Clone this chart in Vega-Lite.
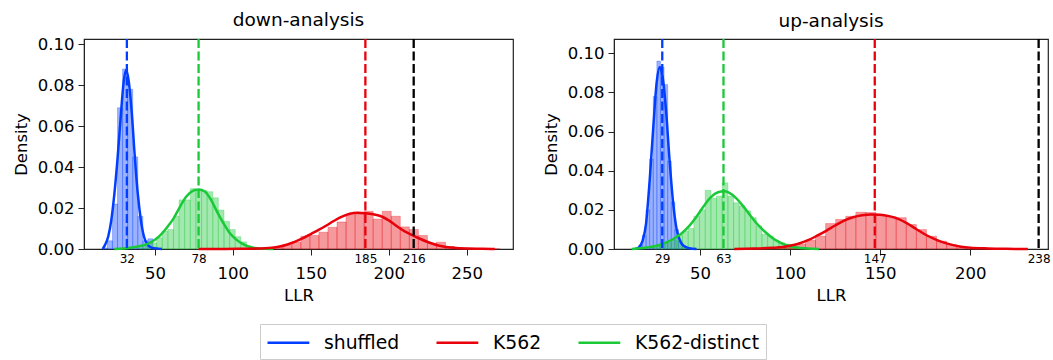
{
  "$schema": "https://vega.github.io/schema/vega-lite/v6.json",
  "padding": {"left": 12, "top": 10, "right": 0, "bottom": 0},
  "background": "white",
  "datasets": {
    "hist": [
      {"panel": "down", "series": "shuffled", "lo": 16.25, "hi": 19.5, "density": 0.0005},
      {"panel": "down", "series": "shuffled", "lo": 19.5, "hi": 22.75, "density": 0.004},
      {"panel": "down", "series": "shuffled", "lo": 22.75, "hi": 26, "density": 0.022},
      {"panel": "down", "series": "shuffled", "lo": 26, "hi": 29.25, "density": 0.069},
      {"panel": "down", "series": "shuffled", "lo": 29.25, "hi": 32.5, "density": 0.088},
      {"panel": "down", "series": "shuffled", "lo": 32.5, "hi": 35.75, "density": 0.078},
      {"panel": "down", "series": "shuffled", "lo": 35.75, "hi": 39, "density": 0.045},
      {"panel": "down", "series": "shuffled", "lo": 39, "hi": 42.25, "density": 0.016},
      {"panel": "down", "series": "shuffled", "lo": 42.25, "hi": 45.5, "density": 0.004},
      {"panel": "down", "series": "shuffled", "lo": 45.5, "hi": 48.75, "density": 0.005},
      {"panel": "down", "series": "shuffled", "lo": 48.75, "hi": 52, "density": 0.0008},
      {"panel": "down", "series": "K562-distinct", "lo": 40.3, "hi": 43.9, "density": 0.0005},
      {"panel": "down", "series": "K562-distinct", "lo": 43.9, "hi": 47.5, "density": 0.0015},
      {"panel": "down", "series": "K562-distinct", "lo": 47.5, "hi": 51.1, "density": 0.003},
      {"panel": "down", "series": "K562-distinct", "lo": 51.1, "hi": 54.7, "density": 0.0055},
      {"panel": "down", "series": "K562-distinct", "lo": 54.7, "hi": 58.3, "density": 0.0087},
      {"panel": "down", "series": "K562-distinct", "lo": 58.3, "hi": 61.9, "density": 0.0095},
      {"panel": "down", "series": "K562-distinct", "lo": 61.9, "hi": 65.5, "density": 0.016},
      {"panel": "down", "series": "K562-distinct", "lo": 65.5, "hi": 69.1, "density": 0.024},
      {"panel": "down", "series": "K562-distinct", "lo": 69.1, "hi": 72.7, "density": 0.024},
      {"panel": "down", "series": "K562-distinct", "lo": 72.7, "hi": 76.3, "density": 0.0295},
      {"panel": "down", "series": "K562-distinct", "lo": 76.3, "hi": 79.9, "density": 0.029},
      {"panel": "down", "series": "K562-distinct", "lo": 79.9, "hi": 83.5, "density": 0.0285},
      {"panel": "down", "series": "K562-distinct", "lo": 83.5, "hi": 87.1, "density": 0.028},
      {"panel": "down", "series": "K562-distinct", "lo": 87.1, "hi": 90.7, "density": 0.025},
      {"panel": "down", "series": "K562-distinct", "lo": 90.7, "hi": 94.3, "density": 0.019},
      {"panel": "down", "series": "K562-distinct", "lo": 94.3, "hi": 97.9, "density": 0.0135},
      {"panel": "down", "series": "K562-distinct", "lo": 97.9, "hi": 101.5, "density": 0.0095},
      {"panel": "down", "series": "K562-distinct", "lo": 101.5, "hi": 105.1, "density": 0.006},
      {"panel": "down", "series": "K562-distinct", "lo": 105.1, "hi": 108.7, "density": 0.0035},
      {"panel": "down", "series": "K562-distinct", "lo": 108.7, "hi": 112.3, "density": 0.0015},
      {"panel": "down", "series": "K562-distinct", "lo": 112.3, "hi": 115.9, "density": 0.0006},
      {"panel": "down", "series": "K562-distinct", "lo": 115.9, "hi": 119.5, "density": 0.0002},
      {"panel": "down", "series": "K562", "lo": 114.6, "hi": 120.4, "density": 0.0003},
      {"panel": "down", "series": "K562", "lo": 120.4, "hi": 126.2, "density": 0.0005},
      {"panel": "down", "series": "K562", "lo": 126.2, "hi": 132, "density": 0.0009},
      {"panel": "down", "series": "K562", "lo": 132, "hi": 137.8, "density": 0.0018},
      {"panel": "down", "series": "K562", "lo": 137.8, "hi": 143.6, "density": 0.0033},
      {"panel": "down", "series": "K562", "lo": 143.6, "hi": 149.4, "density": 0.0062},
      {"panel": "down", "series": "K562", "lo": 149.4, "hi": 155.2, "density": 0.0066},
      {"panel": "down", "series": "K562", "lo": 155.2, "hi": 161, "density": 0.0082},
      {"panel": "down", "series": "K562", "lo": 161, "hi": 166.8, "density": 0.0106},
      {"panel": "down", "series": "K562", "lo": 166.8, "hi": 172.6, "density": 0.0132},
      {"panel": "down", "series": "K562", "lo": 172.6, "hi": 178.4, "density": 0.0168},
      {"panel": "down", "series": "K562", "lo": 178.4, "hi": 184.2, "density": 0.0172},
      {"panel": "down", "series": "K562", "lo": 184.2, "hi": 190, "density": 0.0184},
      {"panel": "down", "series": "K562", "lo": 190, "hi": 195.8, "density": 0.0146},
      {"panel": "down", "series": "K562", "lo": 195.8, "hi": 201.6, "density": 0.0184},
      {"panel": "down", "series": "K562", "lo": 201.6, "hi": 207.4, "density": 0.016},
      {"panel": "down", "series": "K562", "lo": 207.4, "hi": 213.2, "density": 0.0108},
      {"panel": "down", "series": "K562", "lo": 213.2, "hi": 219, "density": 0.0095},
      {"panel": "down", "series": "K562", "lo": 219, "hi": 224.8, "density": 0.0066},
      {"panel": "down", "series": "K562", "lo": 224.8, "hi": 230.6, "density": 0.0029},
      {"panel": "down", "series": "K562", "lo": 230.6, "hi": 236.4, "density": 0.0033},
      {"panel": "down", "series": "K562", "lo": 236.4, "hi": 242.2, "density": 0.0012},
      {"panel": "down", "series": "K562", "lo": 242.2, "hi": 248, "density": 0.0006},
      {"panel": "down", "series": "K562", "lo": 248, "hi": 253.8, "density": 0.0004},
      {"panel": "down", "series": "K562", "lo": 253.8, "hi": 259.6, "density": 0.0002},
      {"panel": "down", "series": "K562", "lo": 259.6, "hi": 265.4, "density": 0.0001},
      {"panel": "down", "series": "K562", "lo": 265.4, "hi": 271.2, "density": 0.0001},
      {"panel": "up", "series": "shuffled", "lo": 16, "hi": 18, "density": 0.002},
      {"panel": "up", "series": "shuffled", "lo": 18, "hi": 20, "density": 0.007},
      {"panel": "up", "series": "shuffled", "lo": 20, "hi": 22, "density": 0.02},
      {"panel": "up", "series": "shuffled", "lo": 22, "hi": 24, "density": 0.046},
      {"panel": "up", "series": "shuffled", "lo": 24, "hi": 26, "density": 0.078},
      {"panel": "up", "series": "shuffled", "lo": 26, "hi": 28, "density": 0.096},
      {"panel": "up", "series": "shuffled", "lo": 28, "hi": 30, "density": 0.093},
      {"panel": "up", "series": "shuffled", "lo": 30, "hi": 32, "density": 0.084},
      {"panel": "up", "series": "shuffled", "lo": 32, "hi": 34, "density": 0.045},
      {"panel": "up", "series": "shuffled", "lo": 34, "hi": 36, "density": 0.024},
      {"panel": "up", "series": "shuffled", "lo": 36, "hi": 38, "density": 0.01},
      {"panel": "up", "series": "shuffled", "lo": 38, "hi": 40, "density": 0.004},
      {"panel": "up", "series": "shuffled", "lo": 40, "hi": 42, "density": 0.0015},
      {"panel": "up", "series": "shuffled", "lo": 42, "hi": 44, "density": 0.0006},
      {"panel": "up", "series": "K562-distinct", "lo": 24.5, "hi": 27.65, "density": 0.0015},
      {"panel": "up", "series": "K562-distinct", "lo": 27.65, "hi": 30.8, "density": 0.002},
      {"panel": "up", "series": "K562-distinct", "lo": 30.8, "hi": 33.95, "density": 0.003},
      {"panel": "up", "series": "K562-distinct", "lo": 33.95, "hi": 37.1, "density": 0.0045},
      {"panel": "up", "series": "K562-distinct", "lo": 37.1, "hi": 40.25, "density": 0.007},
      {"panel": "up", "series": "K562-distinct", "lo": 40.25, "hi": 43.4, "density": 0.009},
      {"panel": "up", "series": "K562-distinct", "lo": 43.4, "hi": 46.55, "density": 0.0105},
      {"panel": "up", "series": "K562-distinct", "lo": 46.55, "hi": 49.7, "density": 0.0167},
      {"panel": "up", "series": "K562-distinct", "lo": 49.7, "hi": 52.85, "density": 0.02},
      {"panel": "up", "series": "K562-distinct", "lo": 52.85, "hi": 56, "density": 0.03},
      {"panel": "up", "series": "K562-distinct", "lo": 56, "hi": 59.15, "density": 0.026},
      {"panel": "up", "series": "K562-distinct", "lo": 59.15, "hi": 62.3, "density": 0.027},
      {"panel": "up", "series": "K562-distinct", "lo": 62.3, "hi": 65.45, "density": 0.0338},
      {"panel": "up", "series": "K562-distinct", "lo": 65.45, "hi": 68.6, "density": 0.027},
      {"panel": "up", "series": "K562-distinct", "lo": 68.6, "hi": 71.75, "density": 0.0236},
      {"panel": "up", "series": "K562-distinct", "lo": 71.75, "hi": 74.9, "density": 0.022},
      {"panel": "up", "series": "K562-distinct", "lo": 74.9, "hi": 78.05, "density": 0.0195},
      {"panel": "up", "series": "K562-distinct", "lo": 78.05, "hi": 81.2, "density": 0.016},
      {"panel": "up", "series": "K562-distinct", "lo": 81.2, "hi": 84.35, "density": 0.0118},
      {"panel": "up", "series": "K562-distinct", "lo": 84.35, "hi": 87.5, "density": 0.0075},
      {"panel": "up", "series": "K562-distinct", "lo": 87.5, "hi": 90.65, "density": 0.0066},
      {"panel": "up", "series": "K562-distinct", "lo": 90.65, "hi": 93.8, "density": 0.0045},
      {"panel": "up", "series": "K562-distinct", "lo": 93.8, "hi": 96.95, "density": 0.0032},
      {"panel": "up", "series": "K562-distinct", "lo": 96.95, "hi": 100.1, "density": 0.0025},
      {"panel": "up", "series": "K562-distinct", "lo": 100.1, "hi": 103.25, "density": 0.001},
      {"panel": "up", "series": "K562-distinct", "lo": 103.25, "hi": 106.4, "density": 0.0008},
      {"panel": "up", "series": "K562-distinct", "lo": 106.4, "hi": 109.55, "density": 0.0003},
      {"panel": "up", "series": "K562-distinct", "lo": 109.55, "hi": 112.7, "density": 0.0002},
      {"panel": "up", "series": "K562", "lo": 69.3, "hi": 74.9, "density": 0.0001},
      {"panel": "up", "series": "K562", "lo": 74.9, "hi": 80.5, "density": 0.0001},
      {"panel": "up", "series": "K562", "lo": 80.5, "hi": 86.1, "density": 0.0002},
      {"panel": "up", "series": "K562", "lo": 86.1, "hi": 91.7, "density": 0.0004},
      {"panel": "up", "series": "K562", "lo": 91.7, "hi": 97.3, "density": 0.0008},
      {"panel": "up", "series": "K562", "lo": 97.3, "hi": 102.9, "density": 0.0014},
      {"panel": "up", "series": "K562", "lo": 102.9, "hi": 108.5, "density": 0.0025},
      {"panel": "up", "series": "K562", "lo": 108.5, "hi": 114.1, "density": 0.0045},
      {"panel": "up", "series": "K562", "lo": 114.1, "hi": 119.7, "density": 0.0066},
      {"panel": "up", "series": "K562", "lo": 119.7, "hi": 125.3, "density": 0.013},
      {"panel": "up", "series": "K562", "lo": 125.3, "hi": 130.9, "density": 0.0151},
      {"panel": "up", "series": "K562", "lo": 130.9, "hi": 136.5, "density": 0.0167},
      {"panel": "up", "series": "K562", "lo": 136.5, "hi": 142.1, "density": 0.0188},
      {"panel": "up", "series": "K562", "lo": 142.1, "hi": 147.7, "density": 0.0186},
      {"panel": "up", "series": "K562", "lo": 147.7, "hi": 153.3, "density": 0.0172},
      {"panel": "up", "series": "K562", "lo": 153.3, "hi": 158.9, "density": 0.0165},
      {"panel": "up", "series": "K562", "lo": 158.9, "hi": 164.5, "density": 0.016},
      {"panel": "up", "series": "K562", "lo": 164.5, "hi": 170.1, "density": 0.0125},
      {"panel": "up", "series": "K562", "lo": 170.1, "hi": 175.7, "density": 0.0099},
      {"panel": "up", "series": "K562", "lo": 175.7, "hi": 181.3, "density": 0.0065},
      {"panel": "up", "series": "K562", "lo": 181.3, "hi": 186.9, "density": 0.004},
      {"panel": "up", "series": "K562", "lo": 186.9, "hi": 192.5, "density": 0.0022},
      {"panel": "up", "series": "K562", "lo": 192.5, "hi": 198.1, "density": 0.0012},
      {"panel": "up", "series": "K562", "lo": 198.1, "hi": 203.7, "density": 0.0007},
      {"panel": "up", "series": "K562", "lo": 203.7, "hi": 209.3, "density": 0.0004},
      {"panel": "up", "series": "K562", "lo": 209.3, "hi": 214.9, "density": 0.0002},
      {"panel": "up", "series": "K562", "lo": 214.9, "hi": 220.5, "density": 0.0001},
      {"panel": "up", "series": "K562", "lo": 220.5, "hi": 226.1, "density": 0.0001},
      {"panel": "up", "series": "K562", "lo": 226.1, "hi": 231.7, "density": 0.0001}
    ],
    "kde": [
      {"panel": "down", "series": "shuffled", "llr": 16.5, "density": 0},
      {"panel": "down", "series": "shuffled", "llr": 18, "density": 0.002},
      {"panel": "down", "series": "shuffled", "llr": 20, "density": 0.006},
      {"panel": "down", "series": "shuffled", "llr": 22, "density": 0.014},
      {"panel": "down", "series": "shuffled", "llr": 24, "density": 0.027},
      {"panel": "down", "series": "shuffled", "llr": 26, "density": 0.044},
      {"panel": "down", "series": "shuffled", "llr": 28, "density": 0.064},
      {"panel": "down", "series": "shuffled", "llr": 30, "density": 0.082},
      {"panel": "down", "series": "shuffled", "llr": 31.5, "density": 0.0875},
      {"panel": "down", "series": "shuffled", "llr": 33, "density": 0.083},
      {"panel": "down", "series": "shuffled", "llr": 35, "density": 0.068},
      {"panel": "down", "series": "shuffled", "llr": 37, "density": 0.046},
      {"panel": "down", "series": "shuffled", "llr": 39, "density": 0.027},
      {"panel": "down", "series": "shuffled", "llr": 41, "density": 0.014},
      {"panel": "down", "series": "shuffled", "llr": 43, "density": 0.006},
      {"panel": "down", "series": "shuffled", "llr": 45, "density": 0.0025},
      {"panel": "down", "series": "shuffled", "llr": 47, "density": 0.001},
      {"panel": "down", "series": "shuffled", "llr": 50, "density": 0.0003},
      {"panel": "down", "series": "shuffled", "llr": 54.5, "density": 0},
      {"panel": "down", "series": "K562-distinct", "llr": 24, "density": 0},
      {"panel": "down", "series": "K562-distinct", "llr": 30, "density": 0.0003},
      {"panel": "down", "series": "K562-distinct", "llr": 35, "density": 0.0007},
      {"panel": "down", "series": "K562-distinct", "llr": 40, "density": 0.0013},
      {"panel": "down", "series": "K562-distinct", "llr": 45, "density": 0.0024},
      {"panel": "down", "series": "K562-distinct", "llr": 50, "density": 0.0045},
      {"panel": "down", "series": "K562-distinct", "llr": 54, "density": 0.0072},
      {"panel": "down", "series": "K562-distinct", "llr": 58, "density": 0.0108},
      {"panel": "down", "series": "K562-distinct", "llr": 62, "density": 0.015},
      {"panel": "down", "series": "K562-distinct", "llr": 66, "density": 0.0205},
      {"panel": "down", "series": "K562-distinct", "llr": 70, "density": 0.0255},
      {"panel": "down", "series": "K562-distinct", "llr": 74, "density": 0.0283},
      {"panel": "down", "series": "K562-distinct", "llr": 78, "density": 0.0291},
      {"panel": "down", "series": "K562-distinct", "llr": 82, "density": 0.0281},
      {"panel": "down", "series": "K562-distinct", "llr": 86, "density": 0.024},
      {"panel": "down", "series": "K562-distinct", "llr": 90, "density": 0.018},
      {"panel": "down", "series": "K562-distinct", "llr": 94, "density": 0.0125},
      {"panel": "down", "series": "K562-distinct", "llr": 98, "density": 0.0078},
      {"panel": "down", "series": "K562-distinct", "llr": 102, "density": 0.0047},
      {"panel": "down", "series": "K562-distinct", "llr": 106, "density": 0.0026},
      {"panel": "down", "series": "K562-distinct", "llr": 110, "density": 0.0012},
      {"panel": "down", "series": "K562-distinct", "llr": 114, "density": 0.0005},
      {"panel": "down", "series": "K562-distinct", "llr": 120, "density": 0.0001},
      {"panel": "down", "series": "K562-distinct", "llr": 126, "density": 0},
      {"panel": "down", "series": "K562", "llr": 78, "density": 0},
      {"panel": "down", "series": "K562", "llr": 95, "density": 0.00005},
      {"panel": "down", "series": "K562", "llr": 105, "density": 0.0001},
      {"panel": "down", "series": "K562", "llr": 115, "density": 0.0002},
      {"panel": "down", "series": "K562", "llr": 125, "density": 0.0006},
      {"panel": "down", "series": "K562", "llr": 130, "density": 0.0012},
      {"panel": "down", "series": "K562", "llr": 135, "density": 0.0022},
      {"panel": "down", "series": "K562", "llr": 140, "density": 0.0036},
      {"panel": "down", "series": "K562", "llr": 145, "density": 0.0053},
      {"panel": "down", "series": "K562", "llr": 150, "density": 0.0073},
      {"panel": "down", "series": "K562", "llr": 155, "density": 0.0093},
      {"panel": "down", "series": "K562", "llr": 160, "density": 0.0115},
      {"panel": "down", "series": "K562", "llr": 165, "density": 0.0138},
      {"panel": "down", "series": "K562", "llr": 170, "density": 0.0158},
      {"panel": "down", "series": "K562", "llr": 175, "density": 0.0172},
      {"panel": "down", "series": "K562", "llr": 180, "density": 0.0177},
      {"panel": "down", "series": "K562", "llr": 185, "density": 0.0175},
      {"panel": "down", "series": "K562", "llr": 190, "density": 0.017},
      {"panel": "down", "series": "K562", "llr": 195, "density": 0.016},
      {"panel": "down", "series": "K562", "llr": 200, "density": 0.014},
      {"panel": "down", "series": "K562", "llr": 205, "density": 0.0112},
      {"panel": "down", "series": "K562", "llr": 210, "density": 0.0087},
      {"panel": "down", "series": "K562", "llr": 215, "density": 0.0068},
      {"panel": "down", "series": "K562", "llr": 220, "density": 0.005},
      {"panel": "down", "series": "K562", "llr": 225, "density": 0.0034},
      {"panel": "down", "series": "K562", "llr": 230, "density": 0.0021},
      {"panel": "down", "series": "K562", "llr": 235, "density": 0.0012},
      {"panel": "down", "series": "K562", "llr": 240, "density": 0.0007},
      {"panel": "down", "series": "K562", "llr": 250, "density": 0.0002},
      {"panel": "down", "series": "K562", "llr": 260, "density": 0.0001},
      {"panel": "down", "series": "K562", "llr": 268, "density": 0},
      {"panel": "up", "series": "shuffled", "llr": 14, "density": 0},
      {"panel": "up", "series": "shuffled", "llr": 16, "density": 0.0008},
      {"panel": "up", "series": "shuffled", "llr": 18, "density": 0.004},
      {"panel": "up", "series": "shuffled", "llr": 20, "density": 0.013},
      {"panel": "up", "series": "shuffled", "llr": 22, "density": 0.035},
      {"panel": "up", "series": "shuffled", "llr": 24, "density": 0.062},
      {"panel": "up", "series": "shuffled", "llr": 26, "density": 0.086},
      {"panel": "up", "series": "shuffled", "llr": 27.6, "density": 0.093},
      {"panel": "up", "series": "shuffled", "llr": 29, "density": 0.089},
      {"panel": "up", "series": "shuffled", "llr": 31, "density": 0.072},
      {"panel": "up", "series": "shuffled", "llr": 33, "density": 0.046},
      {"panel": "up", "series": "shuffled", "llr": 35, "density": 0.024},
      {"panel": "up", "series": "shuffled", "llr": 37, "density": 0.01},
      {"panel": "up", "series": "shuffled", "llr": 39, "density": 0.004},
      {"panel": "up", "series": "shuffled", "llr": 41, "density": 0.0015},
      {"panel": "up", "series": "shuffled", "llr": 44, "density": 0.0004},
      {"panel": "up", "series": "shuffled", "llr": 48, "density": 0},
      {"panel": "up", "series": "K562-distinct", "llr": 12, "density": 0},
      {"panel": "up", "series": "K562-distinct", "llr": 18, "density": 0.0005},
      {"panel": "up", "series": "K562-distinct", "llr": 24, "density": 0.0013},
      {"panel": "up", "series": "K562-distinct", "llr": 28, "density": 0.0022},
      {"panel": "up", "series": "K562-distinct", "llr": 32, "density": 0.0036},
      {"panel": "up", "series": "K562-distinct", "llr": 36, "density": 0.0056},
      {"panel": "up", "series": "K562-distinct", "llr": 40, "density": 0.0082},
      {"panel": "up", "series": "K562-distinct", "llr": 44, "density": 0.0118},
      {"panel": "up", "series": "K562-distinct", "llr": 48, "density": 0.0165},
      {"panel": "up", "series": "K562-distinct", "llr": 52, "density": 0.0218},
      {"panel": "up", "series": "K562-distinct", "llr": 56, "density": 0.0265},
      {"panel": "up", "series": "K562-distinct", "llr": 60, "density": 0.029},
      {"panel": "up", "series": "K562-distinct", "llr": 63.5, "density": 0.0295},
      {"panel": "up", "series": "K562-distinct", "llr": 66, "density": 0.0288},
      {"panel": "up", "series": "K562-distinct", "llr": 70, "density": 0.026},
      {"panel": "up", "series": "K562-distinct", "llr": 74, "density": 0.0218},
      {"panel": "up", "series": "K562-distinct", "llr": 78, "density": 0.017},
      {"panel": "up", "series": "K562-distinct", "llr": 82, "density": 0.0125},
      {"panel": "up", "series": "K562-distinct", "llr": 86, "density": 0.0088},
      {"panel": "up", "series": "K562-distinct", "llr": 90, "density": 0.0058},
      {"panel": "up", "series": "K562-distinct", "llr": 94, "density": 0.0035},
      {"panel": "up", "series": "K562-distinct", "llr": 98, "density": 0.0019},
      {"panel": "up", "series": "K562-distinct", "llr": 102, "density": 0.001},
      {"panel": "up", "series": "K562-distinct", "llr": 106, "density": 0.0005},
      {"panel": "up", "series": "K562-distinct", "llr": 110, "density": 0.0002},
      {"panel": "up", "series": "K562-distinct", "llr": 116, "density": 0},
      {"panel": "up", "series": "K562", "llr": 69, "density": 0},
      {"panel": "up", "series": "K562", "llr": 80, "density": 0.0002},
      {"panel": "up", "series": "K562", "llr": 90, "density": 0.0006},
      {"panel": "up", "series": "K562", "llr": 96, "density": 0.001},
      {"panel": "up", "series": "K562", "llr": 100, "density": 0.0017},
      {"panel": "up", "series": "K562", "llr": 105, "density": 0.0028},
      {"panel": "up", "series": "K562", "llr": 110, "density": 0.0045},
      {"panel": "up", "series": "K562", "llr": 115, "density": 0.0068},
      {"panel": "up", "series": "K562", "llr": 120, "density": 0.0093},
      {"panel": "up", "series": "K562", "llr": 125, "density": 0.012},
      {"panel": "up", "series": "K562", "llr": 130, "density": 0.0145},
      {"panel": "up", "series": "K562", "llr": 135, "density": 0.0162},
      {"panel": "up", "series": "K562", "llr": 140, "density": 0.0172},
      {"panel": "up", "series": "K562", "llr": 145, "density": 0.0176},
      {"panel": "up", "series": "K562", "llr": 150, "density": 0.0175},
      {"panel": "up", "series": "K562", "llr": 155, "density": 0.0168},
      {"panel": "up", "series": "K562", "llr": 160, "density": 0.0154},
      {"panel": "up", "series": "K562", "llr": 165, "density": 0.0131},
      {"panel": "up", "series": "K562", "llr": 170, "density": 0.0102},
      {"panel": "up", "series": "K562", "llr": 175, "density": 0.0074},
      {"panel": "up", "series": "K562", "llr": 180, "density": 0.0052},
      {"panel": "up", "series": "K562", "llr": 185, "density": 0.0034},
      {"panel": "up", "series": "K562", "llr": 190, "density": 0.0021},
      {"panel": "up", "series": "K562", "llr": 195, "density": 0.0012},
      {"panel": "up", "series": "K562", "llr": 200, "density": 0.0007},
      {"panel": "up", "series": "K562", "llr": 210, "density": 0.0003},
      {"panel": "up", "series": "K562", "llr": 220, "density": 0.0001},
      {"panel": "up", "series": "K562", "llr": 232, "density": 0}
    ],
    "marks": [
      {"panel": "down", "series": "shuffled", "llr": 32},
      {"panel": "down", "series": "K562-distinct", "llr": 78},
      {"panel": "down", "series": "K562", "llr": 185},
      {"panel": "down", "series": "observed", "llr": 216},
      {"panel": "up", "series": "shuffled", "llr": 29},
      {"panel": "up", "series": "K562-distinct", "llr": 63},
      {"panel": "up", "series": "K562", "llr": 147},
      {"panel": "up", "series": "observed", "llr": 238}
    ]
  },
  "config": {
    "font": "DejaVu Sans",
    "view": {"stroke": "#222222", "strokeWidth": 1.2},
    "axis": {
      "grid": false,
      "labelColor": "#000000",
      "titleColor": "#000000",
      "domainColor": "#222222",
      "tickColor": "#222222",
      "labelFont": "DejaVu Sans",
      "titleFont": "DejaVu Sans",
      "titleFontWeight": "normal",
      "labelFontSize": 16.5,
      "titleFontSize": 16.5
    },
    "title": {"fontSize": 18.5, "fontWeight": "normal", "font": "DejaVu Sans", "color": "#000000", "offset": 7},
    "concat": {"spacing": 28}
  },
  "hconcat": [
    {
      "title": "down-analysis",
      "width": 429,
      "height": 210,
      "resolve": {"axis": {"x": "independent"}},
      "layer": [
        {
          "data": {"name": "hist"},
          "transform": [{"filter": "datum.panel === 'down'"}],
          "mark": {"type": "rect", "fillOpacity": 0.4, "strokeWidth": 0.8, "strokeOpacity": 0.35},
          "encoding": {
            "x": {"field": "lo", "type": "quantitative", "scale": {"domain": [4.5, 279.7], "nice": false, "zero": false},
                  "axis": {"orient": "bottom", "values": [50, 100, 150, 200, 250], "tickSize": 6, "labelPadding": 10, "labelFlush": false, "title": "LLR", "titlePadding": 6}},
            "x2": {"field": "hi"},
            "y": {"field": "density", "type": "quantitative", "scale": {"domain": [0, 0.1026], "nice": false},
                  "axis": {"values": [0, 0.02, 0.04, 0.06, 0.08, 0.1], "format": ".2f", "tickSize": 6, "labelPadding": 4, "title": "Density", "titlePadding": 8}},
            "y2": {"datum": 0},
            "color": {"field": "series", "type": "nominal",
                      "scale": {"domain": ["shuffled", "K562", "K562-distinct", "observed"], "range": ["#023eff", "#e8000b", "#1ac938", "#000000"]},
                      "legend": {"orient": "none", "legendX": 176, "legendY": 285, "direction": "horizontal", "title": null,
                                 "values": ["shuffled", "K562", "K562-distinct"], "symbolType": "M-1,0H2.8", "symbolSize": 484,
                                 "symbolStrokeWidth": 2.5, "labelFontSize": 18.8, "labelFont": "DejaVu Sans", "labelColor": "#000000",
                                 "labelOffset": 33, "columnPadding": 31, "padding": 6, "strokeColor": "#cccccc", "fillColor": "white",
                                 "encode": {"symbols": {"update": {"fill": {"value": "transparent"}, "stroke": {"scale": "color", "field": "value"}, "opacity": {"value": 1}, "strokeWidth": {"value": 2.5}}}}}},
            "stroke": {"field": "series", "type": "nominal",
                       "scale": {"domain": ["shuffled", "K562", "K562-distinct", "observed"], "range": ["#023eff", "#e8000b", "#1ac938", "#000000"]},
                       "legend": null}
          }
        },
        {
          "data": {"name": "kde"},
          "transform": [{"filter": "datum.panel === 'down'"}],
          "mark": {"type": "line", "strokeWidth": 2.5, "interpolate": "monotone"},
          "encoding": {
            "x": {"field": "llr", "type": "quantitative", "scale": {"domain": [4.5, 279.7], "nice": false, "zero": false}, "axis": null},
            "y": {"field": "density", "type": "quantitative", "scale": {"domain": [0, 0.1026], "nice": false}},
            "color": {"field": "series", "type": "nominal"}
          }
        },
        {
          "data": {"name": "marks"},
          "transform": [{"filter": "datum.panel === 'down'"}],
          "mark": {"type": "rule", "strokeDash": [9, 3.5], "strokeWidth": 2.3},
          "encoding": {
            "x": {"field": "llr", "type": "quantitative", "scale": {"domain": [4.5, 279.7], "nice": false, "zero": false},
                  "axis": {"orient": "bottom", "values": [32, 78, 185, 216], "ticks": false, "domain": false, "labelFontSize": 12, "labelPadding": 4, "labelFlush": false, "labelOverlap": false, "title": null}},
            "color": {"field": "series", "type": "nominal"}
          }
        }
      ]
    },
    {
      "title": "up-analysis",
      "width": 434,
      "height": 210,
      "resolve": {"axis": {"x": "independent"}},
      "layer": [
        {
          "data": {"name": "hist"},
          "transform": [{"filter": "datum.panel === 'up'"}],
          "mark": {"type": "rect", "fillOpacity": 0.4, "strokeWidth": 0.8, "strokeOpacity": 0.35},
          "encoding": {
            "x": {"field": "lo", "type": "quantitative", "scale": {"domain": [2.2, 243.2], "nice": false, "zero": false},
                  "axis": {"orient": "bottom", "values": [50, 100, 150, 200], "tickSize": 6, "labelPadding": 10, "labelFlush": false, "title": "LLR", "titlePadding": 6}},
            "x2": {"field": "hi"},
            "y": {"field": "density", "type": "quantitative", "scale": {"domain": [0, 0.1073], "nice": false},
                  "axis": {"values": [0, 0.02, 0.04, 0.06, 0.08, 0.1], "format": ".2f", "tickSize": 6, "labelPadding": 4, "title": "Density", "titlePadding": 8}},
            "y2": {"datum": 0},
            "color": {"field": "series", "type": "nominal"},
            "stroke": {"field": "series", "type": "nominal", "legend": null}
          }
        },
        {
          "data": {"name": "kde"},
          "transform": [{"filter": "datum.panel === 'up'"}],
          "mark": {"type": "line", "strokeWidth": 2.5, "interpolate": "monotone"},
          "encoding": {
            "x": {"field": "llr", "type": "quantitative", "scale": {"domain": [2.2, 243.2], "nice": false, "zero": false}, "axis": null},
            "y": {"field": "density", "type": "quantitative", "scale": {"domain": [0, 0.1073], "nice": false}},
            "color": {"field": "series", "type": "nominal"}
          }
        },
        {
          "data": {"name": "marks"},
          "transform": [{"filter": "datum.panel === 'up'"}],
          "mark": {"type": "rule", "strokeDash": [9, 3.5], "strokeWidth": 2.3},
          "encoding": {
            "x": {"field": "llr", "type": "quantitative", "scale": {"domain": [2.2, 243.2], "nice": false, "zero": false},
                  "axis": {"orient": "bottom", "values": [29, 63, 147, 238], "ticks": false, "domain": false, "labelFontSize": 12, "labelPadding": 4, "labelFlush": false, "labelOverlap": false, "title": null}},
            "color": {"field": "series", "type": "nominal"}
          }
        }
      ]
    }
  ],
  "resolve": {"scale": {"color": "shared", "stroke": "shared"}}
}
